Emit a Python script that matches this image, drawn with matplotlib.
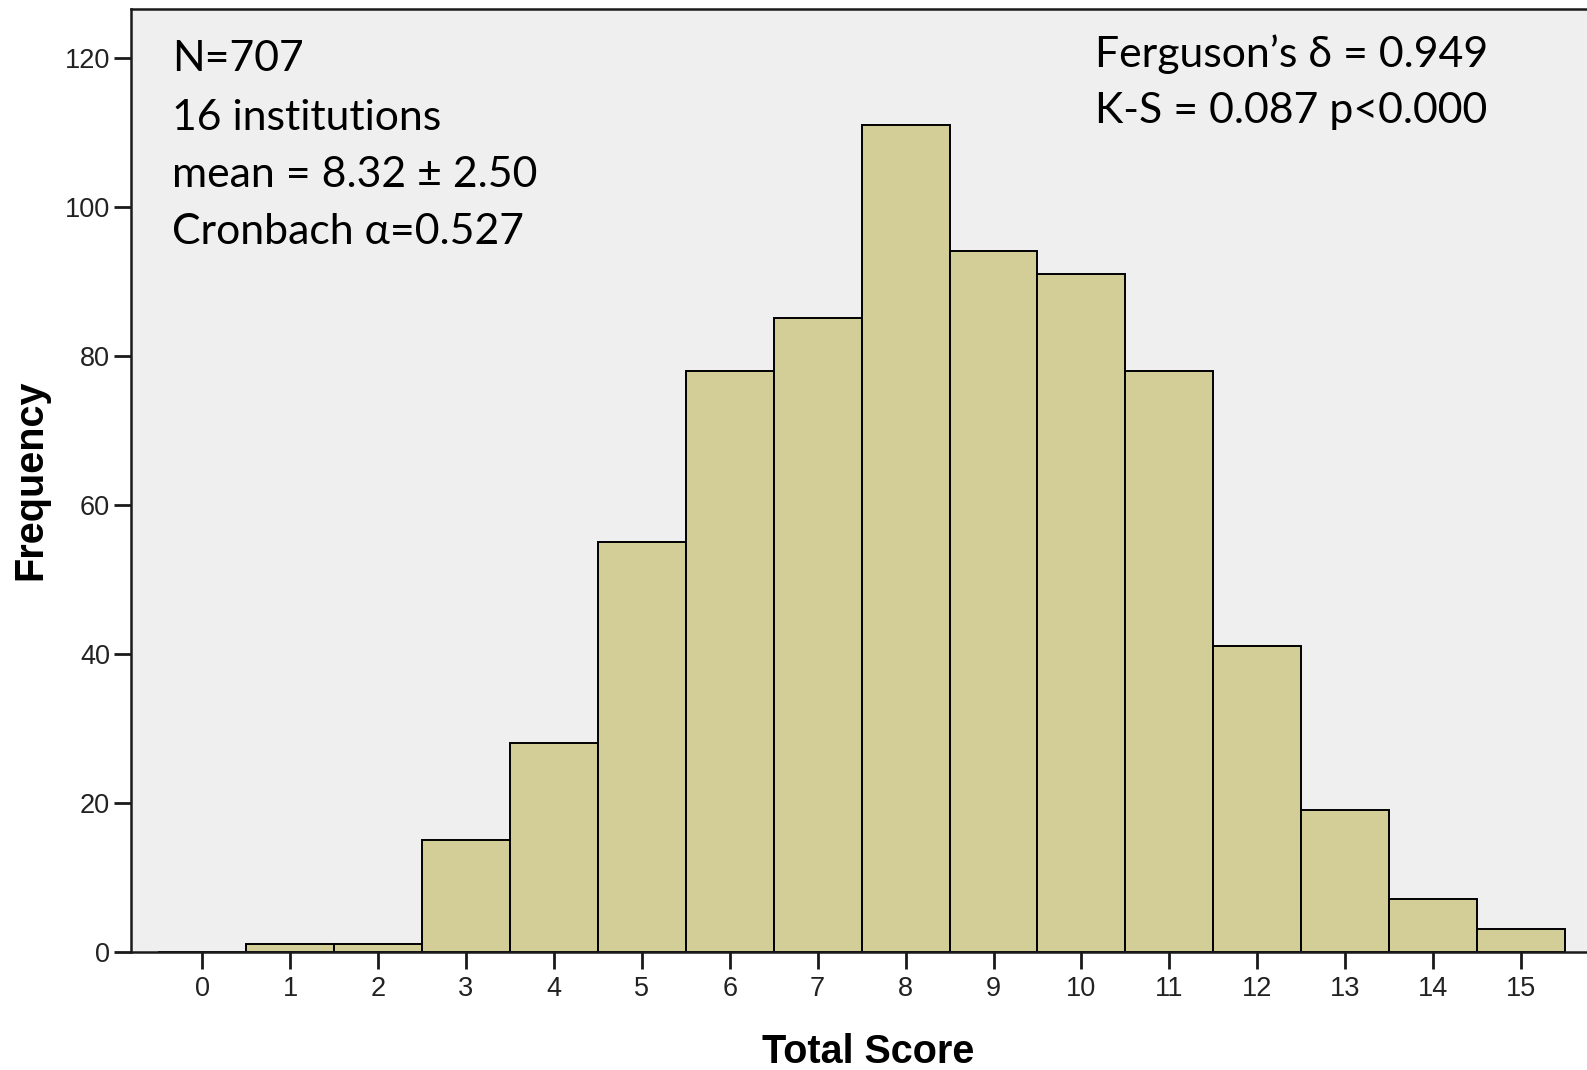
import matplotlib
matplotlib.use("Agg")
import matplotlib.pyplot as plt

scores = list(range(16))
frequency = [0, 1, 1, 15, 28, 55, 78, 85, 111, 94, 91, 78, 41, 19, 7, 3]
yticks = [0, 20, 40, 60, 80, 100, 120]
left_notes = ["N=707", "16 institutions", "mean = 8.32 \u00b1 2.50", "Cronbach \u03b1=0.527"]
right_notes = ["Ferguson\u2019s \u03b4 = 0.949", "K-S = 0.087 p<0.000"]

W, H = 1587, 1070
fig = plt.figure(figsize=(W / 100, H / 100), dpi=100)
ax = fig.add_axes([131 / W, 1 - 951.5 / H, 1 - 131 / W, (951.5 - 9.3) / H])
ax.set_facecolor("#EFEFEF")

ax.bar(scores, frequency, width=1.0, color="#D3CE98", edgecolor="black", linewidth=1.4, zorder=2)

ax.set_xlim(-0.81, 15.75)
ax.set_ylim(0, 126.5)
ax.set_xticks(scores)
ax.set_xticklabels([str(s) for s in scores])
ax.set_yticks(yticks)

for s in ["left", "bottom", "top"]:
    ax.spines[s].set_linewidth(1.8)
    ax.spines[s].set_color("#1a1a1a")
ax.spines["right"].set_visible(False)

ax.tick_params(axis="both", direction="out", length=12, width=2.0, color="#1a1a1a",
               labelsize=19.5, labelcolor="#222222")
ax.tick_params(axis="x", pad=6)
ax.tick_params(axis="y", pad=3)
for lab in ax.get_xticklabels() + ax.get_yticklabels():
    lab.set_family("Liberation Sans")

fig.text(868 / W, 1 - 1052 / H, "Total Score", ha="center", va="center",
         fontsize=28.5, fontweight="bold", family="Liberation Sans")
fig.text(30 / W, 1 - 480 / H, "Frequency", ha="center", va="center", rotation=90,
         fontsize=28.5, fontweight="bold", family="Liberation Sans")

left_y = [59, 117.5, 175.0, 232.5]
for t, y in zip(left_notes, left_y):
    fig.text(172 / W, 1 - y / H, t, ha="left", va="center", fontsize=30.8, family="Lato")
right_y = [54, 111.5]
for t, y in zip(right_notes, right_y):
    fig.text(1095 / W, 1 - y / H, t, ha="left", va="center", fontsize=30.8, family="Lato")

fig.savefig("out.png", dpi=100, facecolor="white")
